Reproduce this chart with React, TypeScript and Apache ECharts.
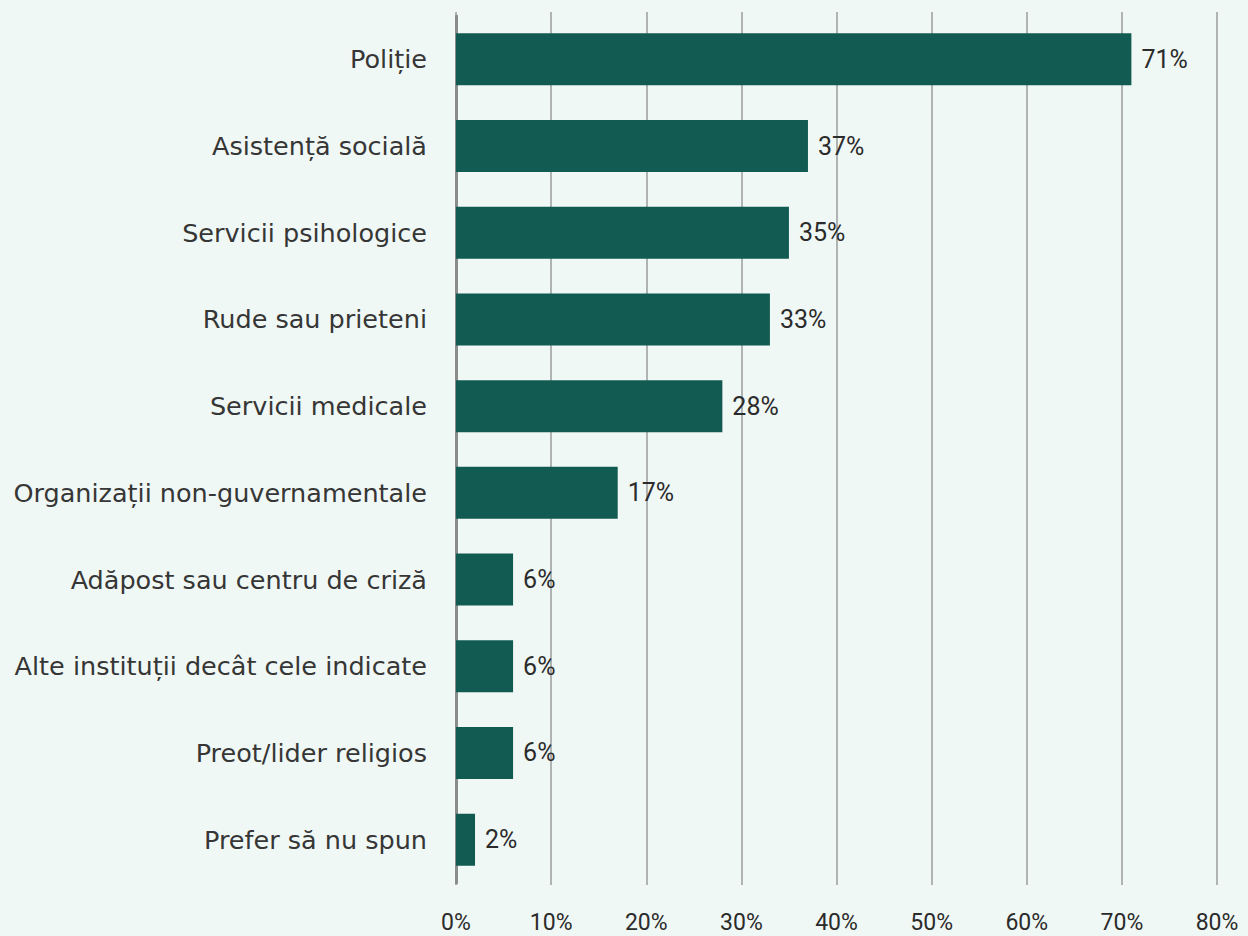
import React, { useEffect, useRef } from "react";
import * as echarts from "echarts";

// Answers, top to bottom, and the share of respondents for each (percent)
const categories: string[] = [
  "Poliție",
  "Asistență socială",
  "Servicii psihologice",
  "Rude sau prieteni",
  "Servicii medicale",
  "Organizații non-guvernamentale",
  "Adăpost sau centru de criză",
  "Alte instituții decât cele indicate",
  "Preot/lider religios",
  "Prefer să nu spun",
];
const shares: number[] = [71, 37, 35, 33, 28, 17, 6, 6, 6, 2];
const axisMax = 80;
const axisStep = 10;

const BG = "#f0f8f5";
const BAR = "#115b52";
const TEXT = "#2b2b2b";

export default function App() {
  const ref = useRef<HTMLDivElement>(null);

  useEffect(() => {
    if (!ref.current) return;
    const chart = echarts.init(ref.current, undefined, { renderer: "svg" });
    chart.setOption({
      animation: false,
      backgroundColor: BG,
      grid: [
        // bars
        { left: 456, right: 31, top: 16, height: 867 },
        // value scale, grid lines and tick labels
        { left: 456, right: 31, top: 12, height: 873 },
      ],
      xAxis: [
        {
          gridIndex: 0,
          type: "value",
          min: 0,
          max: axisMax,
          interval: axisStep,
          show: false,
        },
        {
          gridIndex: 1,
          type: "value",
          min: 0,
          max: axisMax,
          interval: axisStep,
          axisLine: { show: false },
          axisTick: { show: false },
          splitLine: { show: true, lineStyle: { color: "#9a9d9c", width: 1.5 } },
          axisLabel: {
            formatter: (v: number) => `${v}%`,
            color: TEXT,
            fontFamily: "Roboto",
            fontSize: 23,
            margin: 26,
          },
        },
      ],
      yAxis: [
        {
          gridIndex: 0,
          type: "category",
          data: categories,
          inverse: true,
          axisLine: { show: true, lineStyle: { color: "#8a8d8c", width: 3 } },
          axisTick: { show: false },
          splitLine: { show: false },
          axisLabel: {
            color: "#363636",
            fontFamily: "DejaVu Sans",
            fontWeight: "normal",
            fontSize: 25.5,
            margin: 29,
          },
        },
        {
          gridIndex: 1,
          type: "category",
          data: categories,
          show: false,
        },
      ],
      series: [
        {
          type: "bar",
          xAxisIndex: 0,
          yAxisIndex: 0,
          data: shares,
          barWidth: 52,
          itemStyle: { color: BAR },
          label: {
            show: true,
            position: "right",
            distance: 10,
            formatter: (p: any) => `${p.value}%`,
            color: TEXT,
            fontFamily: "Roboto",
            fontSize: 25,
          },
          z: 3,
        },
      ],
    });
    return () => chart.dispose();
  }, []);

  return (
    <div
      ref={ref}
      style={{ width: 1248, height: 936, position: "absolute", left: 0, top: 0 }}
    />
  );
}
